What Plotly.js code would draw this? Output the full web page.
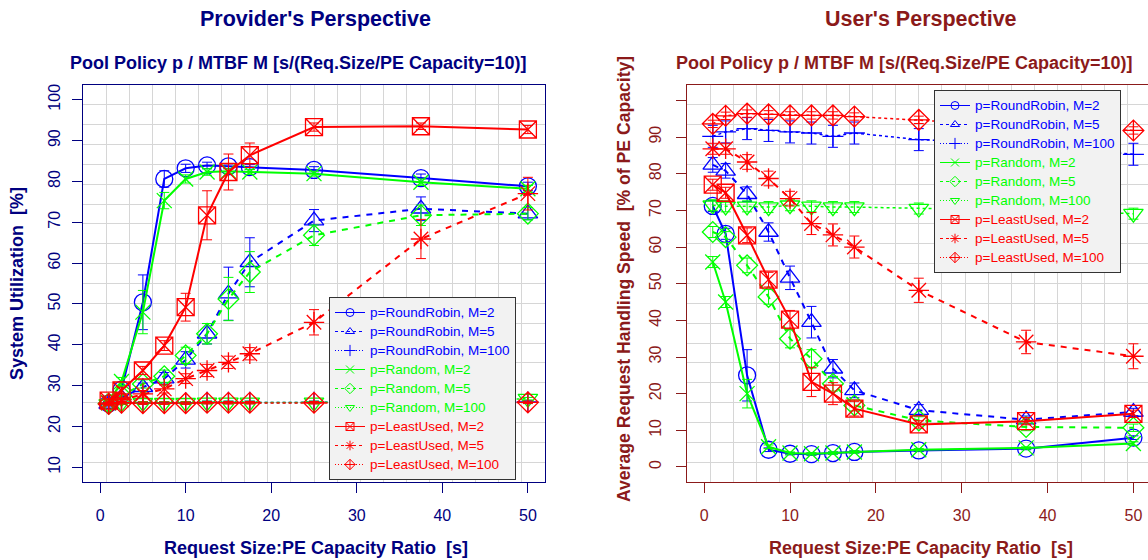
<!DOCTYPE html>
<html>
<head>
<meta charset="utf-8">
<script src="https://cdn.plot.ly/plotly-3.0.1.min.js"></script>
<style>html,body{margin:0;padding:0;background:#fff;}#chart{width:1148px;height:560px;}</style>
</head>
<body>
<div id="chart"></div>
<script>
// ---------- data ----------
const requestRatio = [1, 2.5, 5, 7.5, 10, 12.5, 15, 17.5, 25, 37.5, 50];

const seriesNames = [
  'p=RoundRobin, M=2', 'p=RoundRobin, M=5', 'p=RoundRobin, M=100',
  'p=Random, M=2', 'p=Random, M=5', 'p=Random, M=100',
  'p=LeastUsed, M=2', 'p=LeastUsed, M=5', 'p=LeastUsed, M=100'
];

// Provider's perspective: System Utilization [%]
const util_RR_M2    = [25.6, 29.0, 50.4, 80.6, 83.2, 83.9, 83.7, 83.5, 82.8, 80.8, 78.8];
const util_RR_M5    = [25.5, 27.0, 29.6, 31.7, 36.3, 42.7, 52.5, 60.2, 70.4, 73.3, 72.1];
const util_RR_M100  = [25.5, 25.8, 25.8, 25.8, 25.8, 25.9, 25.9, 25.9, 25.9, 26.0, 26.0];
const util_RND_M2   = [25.8, 31.0, 48.0, 75.3, 80.6, 82.3, 82.5, 82.3, 81.9, 79.8, 78.2];
const util_RND_M5   = [25.6, 27.5, 30.4, 32.3, 37.4, 42.7, 51.2, 57.8, 66.8, 71.7, 72.1];
const util_RND_M100 = [25.5, 25.7, 25.8, 25.8, 25.8, 25.9, 25.9, 25.9, 25.9, 26.0, 26.8];
const util_LU_M2    = [26.3, 28.8, 33.7, 39.8, 49.2, 71.7, 82.3, 86.4, 93.3, 93.5, 92.7];
const util_LU_M5    = [25.7, 26.5, 28.0, 29.2, 31.7, 33.7, 35.7, 37.8, 45.5, 65.9, 77.0];
const util_LU_M100  = [25.5, 25.8, 25.7, 25.7, 25.7, 25.8, 25.8, 25.8, 25.8, 25.8, 25.9];

const utilErr_RR_M2    = [0.5, 1.0, 6.7, 2.0, 1.0, 0.8, 0.6, 0.6, 0.8, 1.0, 1.0];
const utilErr_RR_M5    = [0.5, 0.5, 1.0, 1.5, 2.0, 2.5, 6.5, 6.0, 2.7, 2.9, 1.5];
const utilErr_RR_M100  = [0.3, 0.3, 0.3, 0.3, 0.3, 0.3, 0.3, 0.3, 0.3, 0.3, 0.3];
const utilErr_RND_M2   = [0.5, 1.0, 5.3, 2.0, 1.0, 0.8, 0.6, 0.6, 0.6, 0.8, 0.8];
const utilErr_RND_M5   = [0.5, 0.5, 1.0, 1.5, 2.0, 2.5, 5.3, 5.0, 2.5, 2.5, 1.5];
const utilErr_RND_M100 = [0.3, 0.3, 0.3, 0.3, 0.3, 0.3, 0.3, 0.3, 0.3, 0.3, 0.3];
const utilErr_LU_M2    = [0.5, 0.8, 1.0, 1.2, 3.4, 6.0, 4.4, 3.0, 1.0, 0.8, 1.0];
const utilErr_LU_M5    = [0.3, 0.5, 0.8, 1.0, 1.2, 1.5, 1.5, 1.5, 3.1, 4.8, 4.0];
const utilErr_LU_M100  = [0.3, 0.3, 0.3, 0.3, 0.3, 0.3, 0.3, 0.3, 0.3, 0.3, 0.3];

// User's perspective: Average Request Handling Speed [% of PE Capacity]
const spd_RR_M2    = [71.2, 63.6, 25.0, 4.7, 3.6, 3.5, 3.8, 4.1, 4.5, 5.0, 8.0];
const spd_RR_M5    = [82.4, 80.8, 74.4, 64.1, 51.6, 39.5, 26.8, 20.9, 15.5, 12.9, 15.0];
const spd_RR_M100  = [90.2, 91.4, 92.3, 91.8, 91.4, 91.1, 90.2, 91.1, 89.3, 88.0, 85.3];
const spd_RND_M2   = [55.9, 45.0, 20.0, 5.5, 3.8, 3.6, 3.8, 4.1, 4.7, 5.2, 6.4];
const spd_RND_M5   = [64.1, 62.7, 55.0, 46.4, 35.0, 29.5, 22.7, 16.8, 12.7, 10.9, 10.7];
const spd_RND_M100 = [71.4, 71.1, 71.1, 70.9, 71.4, 71.1, 70.9, 70.9, 70.5, 70.0, 69.1];
const spd_LU_M2    = [77.0, 74.8, 63.2, 51.1, 40.2, 23.2, 20.0, 15.9, 11.6, 12.5, 14.5];
const spd_LU_M5    = [86.8, 86.8, 83.2, 78.7, 73.2, 66.4, 63.3, 60.0, 48.2, 34.1, 30.2];
const spd_LU_M100  = [93.6, 95.8, 96.4, 96.2, 95.9, 95.9, 95.9, 95.6, 94.7, 93.0, 91.8];

const spdErr_RR_M2    = [1.5, 1.5, 7.0, 0.5, 0.3, 0.3, 0.3, 0.3, 0.3, 0.3, 0.5];
const spdErr_RR_M5    = [2.0, 2.0, 2.0, 2.5, 3.2, 4.3, 2.5, 2.0, 1.5, 1.0, 1.0];
const spdErr_RR_M100  = [3.0, 3.0, 3.0, 3.0, 3.0, 3.0, 3.0, 3.0, 3.0, 3.0, 3.0];
const spdErr_RND_M2   = [1.5, 1.5, 3.9, 0.5, 0.3, 0.3, 0.3, 0.3, 0.3, 0.3, 0.5];
const spdErr_RND_M5   = [1.5, 1.5, 2.0, 2.0, 2.5, 2.5, 2.0, 1.5, 1.0, 1.0, 1.0];
const spdErr_RND_M100 = [1.5, 1.5, 1.5, 1.5, 1.5, 1.5, 1.5, 1.5, 1.5, 1.5, 1.5];
const spdErr_LU_M2    = [1.5, 1.5, 2.0, 2.0, 2.5, 4.0, 3.0, 2.0, 1.0, 1.0, 1.0];
const spdErr_LU_M5    = [1.5, 1.5, 2.0, 2.0, 2.0, 3.0, 3.0, 3.0, 3.3, 3.2, 3.4];
const spdErr_LU_M100  = [1.0, 1.0, 1.0, 1.0, 1.0, 1.0, 1.0, 1.0, 1.0, 1.0, 1.0];

// ---------- styling ----------
const FONT = 'Liberation Sans, Arial, Helvetica, sans-serif';
const NAVY = '#000080';
const DARKRED = '#8B1A1A';
const BLUE = '#0000FF', GREEN = '#00FF00', RED = '#FF0000';

const styles = [
  {color: BLUE,  dash: 'solid',   width: 2,   symbol: 'circle-open',        size: 17},
  {color: BLUE,  dash: '6px,6px', width: 2,   symbol: 'triangle-up-open',   size: 17},
  {color: BLUE,  dash: 'dot',     width: 1.5, symbol: 'cross-thin-open',    size: 15},
  {color: GREEN, dash: 'solid',   width: 2,   symbol: 'x-thin-open',        size: 15},
  {color: GREEN, dash: '6px,6px', width: 2,   symbol: 'diamond-open',       size: 16},
  {color: GREEN, dash: 'dot',     width: 1.5, symbol: 'triangle-down-open', size: 17},
  {color: RED,   dash: 'solid',   width: 2,   symbol: 'square-x-open',      size: 17},
  {color: RED,   dash: '6px,6px', width: 2,   symbol: 'asterisk-open',      size: 17},
  {color: RED,   dash: 'dot',     width: 1.5, symbol: 'diamond-cross-open', size: 16}
];
const legendDash = ['solid', '3px,3px', '1px,2px', 'solid', '3px,3px', '1px,2px', 'solid', '3px,3px', '1px,2px'];

const utilSeries = [util_RR_M2, util_RR_M5, util_RR_M100, util_RND_M2, util_RND_M5, util_RND_M100, util_LU_M2, util_LU_M5, util_LU_M100];
const utilErrs = [utilErr_RR_M2, utilErr_RR_M5, utilErr_RR_M100, utilErr_RND_M2, utilErr_RND_M5, utilErr_RND_M100, utilErr_LU_M2, utilErr_LU_M5, utilErr_LU_M100];
const spdSeries = [spd_RR_M2, spd_RR_M5, spd_RR_M100, spd_RND_M2, spd_RND_M5, spd_RND_M100, spd_LU_M2, spd_LU_M5, spd_LU_M100];
const spdErrs = [spdErr_RR_M2, spdErr_RR_M5, spdErr_RR_M100, spdErr_RND_M2, spdErr_RND_M5, spdErr_RND_M100, spdErr_LU_M2, spdErr_LU_M5, spdErr_LU_M100];

function makeTrace(i, ys, errs, xa, ya) {
  const s = styles[i];
  return {
    type: 'scatter', mode: 'lines+markers',
    x: requestRatio, y: ys,
    xaxis: xa, yaxis: ya, showlegend: false,
    name: seriesNames[i],
    line: {color: s.color, dash: s.dash, width: s.width},
    marker: {symbol: s.symbol, size: s.size, color: s.color, line: {color: s.color, width: 1.3}},
    error_y: {type: 'data', array: errs, visible: true, color: s.color, thickness: 1, width: 5},
    hoverinfo: 'x+y'
  };
}
// legend entries (symbol key only, no data marks)
function legendEntry(i, xa, ya, leg) {
  const s = styles[i];
  return {
    type: 'scatter', mode: 'lines+markers', x: [null], y: [null],
    xaxis: xa, yaxis: ya, legend: leg, showlegend: true, hoverinfo: 'skip',
    name: '<span style="color:' + s.color + ';font-size:13.5px">' + seriesNames[i] + '</span>',
    line: {color: s.color, dash: legendDash[i], width: 1},
    marker: {symbol: s.symbol, size: 8, color: s.color, line: {color: s.color, width: 1}}
  };
}

const traces = [];
for (let i = 0; i < 9; i++) traces.push(makeTrace(i, utilSeries[i], utilErrs[i], 'x', 'y'));
for (let i = 0; i < 9; i++) traces.push(makeTrace(i, spdSeries[i], spdErrs[i], 'x2', 'y2'));
for (let i = 0; i < 9; i++) traces.push(legendEntry(i, 'x', 'y', 'legend'));
for (let i = 0; i < 9; i++) traces.push(legendEntry(i, 'x2', 'y2', 'legend2'));

function xAxis(domain, color, range, anchor) {
  return {
    domain: domain, range: range, anchor: anchor, tickmode: 'linear', tick0: 0, dtick: 10,
    ticks: 'outside', ticklen: 10, tickwidth: 1, tickcolor: color,
    showline: true, linecolor: color, linewidth: 1, mirror: true,
    showgrid: false, zeroline: false,
    tickfont: {family: FONT, size: 16, color: color},
    ticklabelstandoff: 9,
    minor: {tickmode: 'linear', tick0: 0.7, dtick: 2.7, showgrid: true, gridcolor: '#d6d6d6', gridwidth: 1, ticks: ''}
  };
}
function yAxis(domain, color, range, g0, gd, anchor, standoff) {
  return {
    domain: domain, range: range, anchor: anchor, tickmode: 'linear', tick0: 0, dtick: 10,
    ticks: 'outside', ticklen: 10, tickwidth: 1, tickcolor: color,
    showline: true, linecolor: color, linewidth: 1, mirror: true,
    showgrid: false, zeroline: false, tickangle: -90,
    tickfont: {family: FONT, size: 16, color: color},
    ticklabelstandoff: standoff,
    minor: {tickmode: 'linear', tick0: g0, dtick: gd, showgrid: true, gridcolor: '#d6d6d6', gridwidth: 1, ticks: ''}
  };
}

const W = 1148, H = 560;
const px = v => v / W, py = v => (H - v) / H;

const legendBase = {
  xanchor: 'left', yanchor: 'top', bgcolor: '#F2F2F2', bordercolor: '#333333', borderwidth: 1,
  font: {family: FONT, size: 11}, tracegroupgap: 0, itemsizing: 'trace', traceorder: 'normal', itemwidth: 30
};

function ann(text, x, y, color, size, angle) {
  return {text: text, x: x, y: y, xref: 'paper', yref: 'paper', xanchor: 'center', yanchor: 'middle',
    showarrow: false, textangle: angle || 0,
    font: {family: FONT, size: size, color: color, weight: 'bold'}};
}

const yAx2 = yAxis([py(482), py(85)], DARKRED, [-4.1, 104.2], -4.1, 5.415, 'x2', 9);
yAx2.labelalias = {'100': ' '};

const layout = {
  width: W, height: H,
  margin: {l: 0, r: 0, t: 0, b: 0},
  paper_bgcolor: '#ffffff', plot_bgcolor: '#ffffff',
  showlegend: true,
  xaxis: xAxis([px(83), px(545)], NAVY, [-2, 52], 'y'),
  yaxis: yAxis([py(482), py(85)], NAVY, [6.4, 103.6], 6.4, 4.86, 'x', 6),
  xaxis2: xAxis([px(687), 1], DARKRED, [-2, 51.7], 'y2'),
  yaxis2: yAx2,
  legend: Object.assign({x: px(329), y: py(297)}, legendBase),
  legend2: Object.assign({x: px(934), y: py(90)}, legendBase),
  annotations: [
    ann("Provider's Perspective", px(315), py(19), NAVY, 21.5),
    ann('Pool Policy p / MTBF M [s/(Req.Size/PE Capacity=10)]', px(298), py(63), NAVY, 18),
    ann('Request Size:PE Capacity Ratio  [s]', px(316), py(548), NAVY, 18),
    ann('System Utilization  [%]', px(17), py(284), NAVY, 18, -90),
    ann("User's Perspective", px(921), py(19), DARKRED, 21.5),
    ann('Pool Policy p / MTBF M [s/(Req.Size/PE Capacity=10)]', px(904), py(63), DARKRED, 18),
    ann('Request Size:PE Capacity Ratio  [s]', px(921), py(548), DARKRED, 18),
    ann('Average Request Handling Speed  [% of PE Capacity]', px(624), py(279), DARKRED, 17.6, -90)
  ]
};

Plotly.newPlot('chart', traces, layout, {displayModeBar: false});
</script>
</body>
</html>
